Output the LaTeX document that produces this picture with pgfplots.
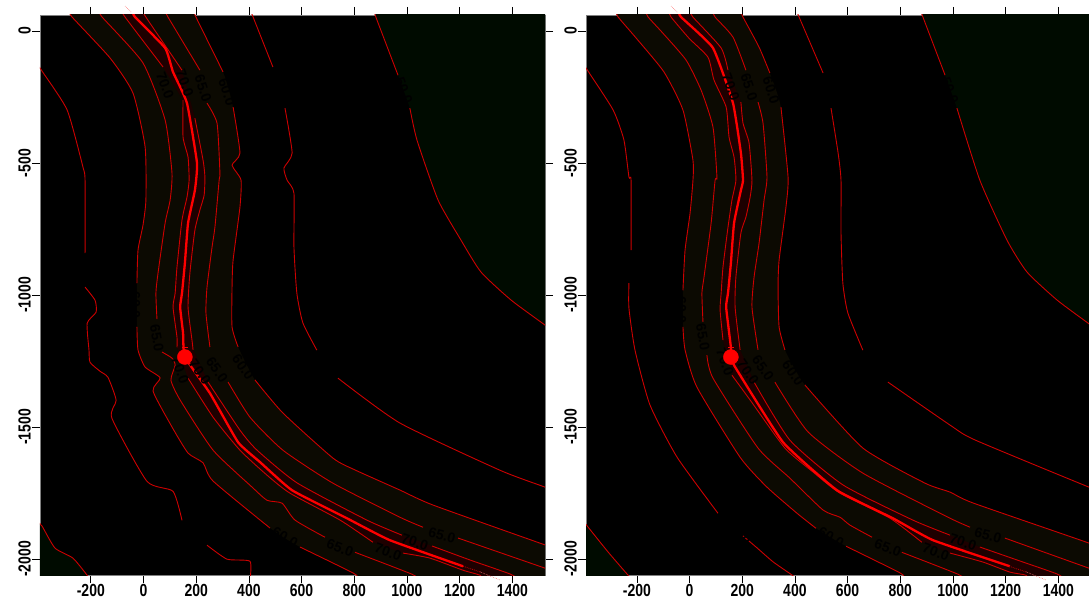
\documentclass[border=0pt]{standalone}
\usepackage{pgfplots}
\usepackage{pgfplotstable}
\usepackage{fontspec}
\setmainfont{Liberation Sans}
\pgfplotsset{compat=1.18}
\definecolor{bandc}{RGB}{12,10,2}
\definecolor{innerc}{RGB}{30,0,0}
\definecolor{greenc}{RGB}{0,11,0}
\definecolor{contc}{RGB}{205,0,0}
% ---------- left panel ----------
\pgfplotstableread{
x y
-400 -129
-385 -152
-290 -299
-230 -515
-222 -565
-222 -841
nan nan
-222 -970
-184 -1020
-180 -1065
-214 -1107
-207 -1209
-203 -1255
-165 -1289
-135 -1312
-104 -1399
-120 -1467
13 -1706
112 -1744
146 -1854
nan nan
241 -1948
317 -2001
404 -2009
404 -2081
}\tWA
\pgfplotstableread{
x y
-279 72
-271 53
-127 -102
-40 -235
6 -439
9 -640
-2 -735
-21 -830
-25 -955
nan nan
-25 -1121
-21 -1208
6 -1273
63 -1314
36 -1364
108 -1500
169 -1599
226 -1636
264 -1705
480 -1883
nan nan
594 -1955
795 -2053
814 -2072
}\tLsA
\pgfplotstableread{
x y
-165 72
-157 53
-2 -121
82 -337
108 -538
101 -640
82 -727
55 -917
47 -993
51 -1091
nan nan
70 -1216
108 -1239
120 -1266
104 -1323
139 -1398
264 -1588
412 -1728
469 -1778
526 -1789
575 -1853
689 -1918
nan nan
803 -1975
1019 -2058
1049 -2081
}\tLfA
\pgfplotstableread{
x y
-78 72
-70 53
74 -136
nan nan
150 -262
150 -402
169 -478
173 -565
165 -629
146 -716
127 -894
120 -993
112 -1046
127 -1160
127 -1198
nan nan
169 -1315
264 -1463
366 -1588
469 -1683
556 -1751
746 -1853
871 -1937
nan nan
985 -1978
1087 -1997
1213 -2043
1277 -2062
1296 -2088
}\tLiA
\pgfplotstableread{
x y
-40 72
-32 53
82 -64
112 -155
165 -273
203 -500
195 -603
169 -727
157 -879
146 -993
139 -1046
150 -1144
157 -1235
252 -1372
359 -1558
442 -1633
564 -1740
772 -1846
935 -1929
1213 -2028
}\tMA
\pgfplotstableread{
x y
2 72
9 53
146 -148
nan nan
195 -330
226 -489
233 -553
230 -622
214 -678
195 -754
176 -917
169 -1046
184 -1171
188 -1208
nan nan
245 -1330
366 -1512
431 -1588
583 -1712
848 -1853
981 -1910
nan nan
1095 -1951
1239 -2004
1391 -2057
1429 -2080
}\tRiA
\pgfplotstableread{
x y
85 72
93 53
214 -148
nan nan
241 -273
279 -349
290 -538
287 -565
271 -743
260 -819
241 -970
237 -1069
252 -1197
nan nan
321 -1330
404 -1463
529 -1588
719 -1713
973 -1842
1061 -1880
nan nan
1194 -1921
1524 -2035
1600 -2061
}\tRfA
\pgfplotstableread{
x y
192 72
199 53
302 -155
nan nan
340 -288
366 -462
336 -508
370 -564
366 -667
340 -868
336 -970
336 -1121
359 -1197
nan nan
423 -1322
529 -1447
719 -1618
803 -1663
973 -1739
1099 -1796
1524 -1947
1600 -1974
}\tRsA
\pgfplotstableread{
x y
408 72
416 53
491 -136
nan nan
537 -292
564 -462
533 -519
545 -565
571 -614
571 -818
582 -993
605 -1106
658 -1209
nan nan
738 -1315
973 -1485
1353 -1664
1524 -1728
1600 -1758
}\tEA
\pgfplotstableread{
x y
878 72
882 53
966 -167
nan nan
1011 -292
1038 -413
1118 -640
1205 -792
1281 -913
1395 -1019
1524 -1114
1600 -1171
}\tNA
\pgfplotstableread{
x y
-400 -1861
-385 -1876
-336 -1959
-268 -1997
-214 -2062
-203 -2081
}\tSA
% ---------- right panel ----------
\pgfplotstableread{
x y
-400 -129
-385 -152
-290 -299
-249 -413
-230 -553
-222 -565
-222 -830
nan nan
-230 -955
-230 -1050
-207 -1209
-150 -1417
-47 -1615
108 -1827
nan nan
203 -1913
256 -1958
317 -2011
389 -2061
404 -2072
}\tWB
\pgfplotstableread{
x y
-279 72
-271 53
-203 -26
-97 -155
-25 -299
13 -489
13 -565
2 -690
-17 -830
-25 -982
nan nan
-25 -1121
-17 -1208
28 -1349
192 -1615
294 -1728
408 -1827
480 -1884
nan nan
594 -1952
799 -2053
814 -2072
}\tLsB
\pgfplotstableread{
x y
-165 72
-157 53
-101 -8
-13 -110
44 -224
89 -364
104 -553
97 -565
82 -727
55 -932
47 -993
51 -1102
nan nan
66 -1228
89 -1315
260 -1580
381 -1694
507 -1815
571 -1842
609 -1872
693 -1918
nan nan
806 -1975
1019 -2058
1049 -2081
}\tLfB
\pgfplotstableread{
x y
-78 72
-70 53
-2 -27
70 -99
93 -186
139 -288
150 -402
169 -478
176 -565
161 -640
146 -743
127 -894
120 -993
116 -1057
127 -1171
nan nan
161 -1304
230 -1398
362 -1580
469 -1671
571 -1751
761 -1846
882 -1937
nan nan
989 -1978
1114 -2012
1216 -2050
1277 -2062
1296 -2088
}\tLiB
\pgfplotstableread{
x y
-40 72
-32 53
89 -64
165 -273
195 -462
203 -565
195 -603
169 -727
157 -879
146 -993
139 -1046
157 -1198
157 -1235
173 -1273
355 -1558
560 -1740
772 -1846
924 -1929
1216 -2028
}\tMB
\pgfplotstableread{
x y
6 72
13 53
120 -64
146 -148
nan nan
195 -269
203 -349
226 -424
237 -565
230 -629
214 -705
195 -765
176 -932
173 -1046
192 -1208
nan nan
245 -1330
381 -1550
583 -1720
848 -1853
989 -1910
nan nan
1102 -1955
1243 -2004
1395 -2057
1429 -2080
}\tRiB
\pgfplotstableread{
x y
89 72
97 53
165 -23
214 -148
nan nan
260 -269
279 -349
294 -553
283 -640
264 -803
245 -932
237 -1046
260 -1208
nan nan
324 -1330
450 -1519
658 -1675
981 -1842
1065 -1880
nan nan
1197 -1921
1516 -2035
1600 -2061
}\tRfB
\pgfplotstableread{
x y
196 72
203 53
264 -61
305 -159
nan nan
347 -288
374 -553
366 -667
340 -868
336 -970
340 -1121
362 -1208
nan nan
438 -1341
658 -1580
894 -1713
989 -1747
1076 -1788
1516 -1940
1600 -1974
}\tRsB
\pgfplotstableread{
x y
408 72
416 53
507 -159
nan nan
537 -292
564 -462
575 -565
575 -765
582 -955
601 -1068
658 -1209
nan nan
753 -1330
989 -1493
1083 -1549
1516 -1728
1600 -1758
}\tEB
\pgfplotstableread{
x y
878 72
886 53
970 -167
nan nan
1015 -292
1102 -565
1205 -792
1281 -913
1395 -1019
1512 -1106
1600 -1171
}\tNB
\pgfplotstableread{
x y
-400 -1861
-309 -1974
-233 -2062
-214 -2081
}\tSB

\newcommand\tl[1]{\scalebox{1}[1.25]{#1}}
\newcommand\clab[4]{\node[text=black,font=\fontsize{14}{14}\selectfont\bfseries,rotate=#4,inner sep=0pt] at (axis cs:#1,#2) {#3};}
\def\plottabB#1#2{\addplot[#2] table[x=x,y=y] {#1};}
\def\plottab#1#2{\expandafter\plottabB\csname #2\panelid\endcsname{#1}}

\pgfplotsset{panel/.style={
  scale only axis, width=505pt, height=560pt,
  anchor=south west,
  xmin=-393, xmax=1524, ymin=-2061, ymax=61,
  axis background/.style={fill=black},
  axis line style={draw=black!50,line width=0.8pt},
  tick align=outside, major tick length=8pt,
  tick style={black,line width=0.7pt},
  xtick={-200,0,200,400,600,800,1000,1200,1400},
  xticklabels={\tl{-200},\tl{0},\tl{200},\tl{400},\tl{600},\tl{800},\tl{1000},\tl{1200},\tl{1400}},
  ytick={-2000,-1500,-1000,-500,0},
  yticklabels={\tl{-2000},\tl{-1500},\tl{-1000},\tl{-500},\tl{0}},
  xticklabel pos=lower, yticklabel pos=left,
  xtick pos=both, ytick pos=both,
  tick label style={font=\fontsize{14}{14}\selectfont\bfseries,text=black},
  xticklabel style={anchor=north,inner sep=1pt},
  yticklabel style={rotate=90,anchor=south,inner sep=1pt},
  cont/.style={contc,line width=0.9pt,unbounded coords=jump,no markers,smooth,tension=0.35},
}}
\newcommand\panelbody{%
  \addplot[fill=greenc,draw=none,no markers] coordinates {(-420,-1861)(-400,-1861)\SWpts(-420,-2081)} -- cycle;
  \addplot[fill=greenc,draw=none,no markers,smooth,tension=0.35] coordinates {(878,100)\NEpts(1600,100)} -- cycle;
  \addplot[fill=bandc,draw=none,no markers,smooth,tension=0.35] coordinates {\BANDpts} -- cycle;
  \addplot[fill=innerc,draw=none,no markers] coordinates {\INNERpts} -- cycle;
  \plottab{cont}{tW}
  \plottab{cont}{tLs}
  \plottab{cont}{tLf}
  \plottab{cont}{tLi}
  \plottab{cont}{tRi}
  \plottab{cont}{tRf}
  \plottab{cont}{tRs}
  \plottab{cont}{tE}
  \plottab{cont}{tN}
  \plottab{cont}{tS}
  \plottab{red,line width=2.3pt,no markers,line join=round,smooth,tension=0.25}{tM}
  \addplot[red!70!black,densely dotted,line width=0.9pt,no markers] coordinates {(1213,-2028)(1277,-2049)};
  \addplot[red,only marks,mark=-,mark size=3pt,line width=1pt] coordinates {(157,-1198)};
  \addplot[red,only marks,mark=*,mark size=7.5pt] coordinates {(157,-1235)};
}
\newcommand\overlaystub[1]{%
  \begin{axis}[hide axis,clip=false,scale only axis,width=505pt,height=560pt,anchor=south west,at={(#1pt,28pt)},
    xmin=-393,xmax=1524,ymin=-2061,ymax=61]
    \addplot[red!55!white,densely dotted,line width=0.6pt,no markers] coordinates {(-70,95)(-47,72)};
    \addplot[red!55!white,densely dotted,line width=0.6pt,no markers] coordinates {(1277,-2049)(1353,-2080)};
  \end{axis}}

\begin{document}
\begin{tikzpicture}
\path[use as bounding box,fill=white] (0,0) rectangle (1089pt,603pt);
\def\panelid{A}
\def\SWpts{(-385,-1876)(-336,-1959)(-268,-1997)(-214,-2062)(-203,-2081)}
\def\NEpts{(882,53)(966,-167)(1011,-292)(1038,-413)(1118,-640)(1205,-792)(1281,-913)(1395,-1019)(1524,-1114)(1600,-1171)}
\def\BANDpts{(-279,72)(-271,53)(-127,-102)(-40,-235)(6,-439)(9,-640)(-2,-735)(-21,-830)(-25,-955)(-25,-1121)(-21,-1208)(6,-1273)(63,-1314)(36,-1364)(108,-1500)(169,-1599)(226,-1636)(264,-1705)(480,-1883)(594,-1955)(795,-2053)(814,-2072)(822,-2136)(1600,-2136)(1600,-1974)(1524,-1947)(1099,-1796)(973,-1739)(803,-1663)(719,-1618)(529,-1447)(423,-1322)(359,-1197)(336,-1121)(336,-970)(340,-868)(366,-667)(370,-564)(336,-508)(366,-462)(340,-288)(302,-155)(199,53)(192,72)}
\def\INNERpts{(-78,72)(-70,53)(74,-136)(150,-262)(150,-402)(169,-478)(173,-565)(165,-629)(146,-716)(127,-894)(120,-993)(112,-1046)(127,-1160)(127,-1198)(169,-1315)(264,-1463)(366,-1588)(469,-1683)(556,-1751)(746,-1853)(871,-1937)(985,-1978)(1087,-1997)(1213,-2043)(1277,-2062)(1296,-2088)(1429,-2080)(1391,-2057)(1239,-2004)(1095,-1951)(981,-1910)(848,-1853)(583,-1712)(431,-1588)(366,-1512)(245,-1330)(188,-1208)(184,-1171)(169,-1046)(176,-917)(195,-754)(214,-678)(230,-622)(233,-553)(226,-489)(195,-330)(146,-148)(9,53)(2,72)}
\begin{axis}[panel,at={(40pt,28pt)}]
\panelbody
\clab{82}{-205}{70.0}{-70}
\clab{157}{-197}{70.0}{-70}
\clab{226}{-216}{65.0}{-72}
\clab{317}{-231}{60.0}{-72}
\clab{499}{-224}{55.0}{-72}
\clab{988}{-224}{50.0}{-70}
\clab{-222}{-905}{55.0}{-90}
\clab{-32}{-1038}{60.0}{-90}
\clab{51}{-1163}{65.0}{-80}
\clab{139}{-1284}{70.0}{-70}
\clab{214}{-1292}{70.0}{-55}
\clab{279}{-1284}{65.0}{-55}
\clab{378}{-1273}{60.0}{-55}
\clab{708}{-1265}{55.0}{-40}
\clab{188}{-1900}{55.0}{-50}
\clab{537}{-1917}{60.0}{-30}
\clab{746}{-1959}{65.0}{-20}
\clab{928}{-1974}{70.0}{-20}
\clab{1030}{-1936}{70.0}{-18}
\clab{1133}{-1910}{65.0}{-15}
\end{axis}
\overlaystub{40}
\def\panelid{B}
\def\SWpts{(-309,-1974)(-233,-2062)(-214,-2081)}
\def\NEpts{(886,53)(970,-167)(1015,-292)(1102,-565)(1205,-792)(1281,-913)(1395,-1019)(1512,-1106)(1600,-1171)}
\def\BANDpts{(-279,72)(-271,53)(-203,-26)(-97,-155)(-25,-299)(13,-489)(13,-565)(2,-690)(-17,-830)(-25,-982)(-25,-1121)(-17,-1208)(28,-1349)(192,-1615)(294,-1728)(408,-1827)(480,-1884)(594,-1952)(799,-2053)(814,-2072)(822,-2136)(1600,-2136)(1600,-1974)(1516,-1940)(1076,-1788)(989,-1747)(894,-1713)(658,-1580)(438,-1341)(362,-1208)(340,-1121)(336,-970)(340,-868)(366,-667)(374,-553)(347,-288)(305,-159)(264,-61)(203,53)(196,72)}
\def\INNERpts{(-78,72)(-70,53)(-2,-27)(70,-99)(93,-186)(139,-288)(150,-402)(169,-478)(176,-565)(161,-640)(146,-743)(127,-894)(120,-993)(116,-1057)(127,-1171)(161,-1304)(230,-1398)(362,-1580)(469,-1671)(571,-1751)(761,-1846)(882,-1937)(989,-1978)(1114,-2012)(1216,-2050)(1277,-2062)(1296,-2088)(1429,-2080)(1395,-2057)(1243,-2004)(1102,-1955)(989,-1910)(848,-1853)(583,-1720)(381,-1550)(245,-1330)(192,-1208)(173,-1046)(176,-932)(195,-765)(214,-705)(230,-629)(237,-565)(226,-424)(203,-349)(195,-269)(146,-148)(120,-64)(13,53)(6,72)}
\begin{axis}[panel,at={(586pt,28pt)}]
\panelbody
\clab{157}{-212}{70.0}{-70}
\clab{226}{-212}{65.0}{-72}
\clab{310}{-224}{60.0}{-72}
\clab{518}{-231}{55.0}{-72}
\clab{988}{-224}{50.0}{-70}
\clab{-222}{-894}{55.0}{-90}
\clab{-32}{-1057}{60.0}{-90}
\clab{51}{-1159}{65.0}{-80}
\clab{135}{-1254}{70.0}{-70}
\clab{222}{-1292}{70.0}{-55}
\clab{279}{-1277}{65.0}{-55}
\clab{393}{-1296}{60.0}{-55}
\clab{712}{-1284}{55.0}{-40}
\clab{188}{-1900}{55.0}{-50}
\clab{537}{-1917}{60.0}{-30}
\clab{753}{-1959}{65.0}{-20}
\clab{935}{-1974}{70.0}{-20}
\clab{1038}{-1936}{70.0}{-18}
\clab{1133}{-1910}{65.0}{-15}
\end{axis}
\overlaystub{586}
\end{tikzpicture}
\end{document}
